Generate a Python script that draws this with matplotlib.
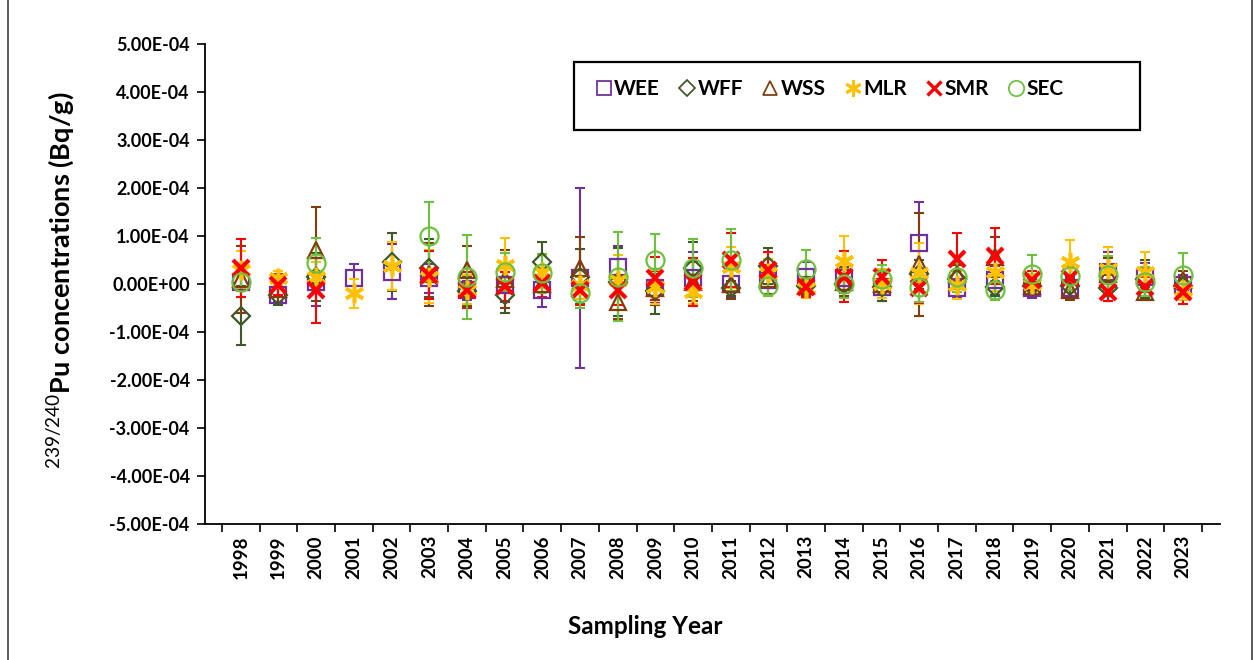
import numpy as np
import matplotlib
matplotlib.use('Agg')
import matplotlib.pyplot as plt
from matplotlib.ticker import FuncFormatter, FixedLocator
from matplotlib.patches import Rectangle
from matplotlib.lines import Line2D

plt.rcParams['font.family'] = ['Lato', 'DejaVu Sans']
plt.rcParams['mathtext.fontset'] = 'custom'
plt.rcParams['mathtext.rm'] = 'Lato'
plt.rcParams['mathtext.bf'] = 'Lato:bold'

years = ['1998', '1999', '2000', '2001', '2002', '2003', '2004', '2005', '2006',
         '2007', '2008', '2009', '2010', '2011', '2012', '2013', '2014', '2015',
         '2016', '2017', '2018', '2019', '2020', '2021', '2022', '2023']
nan = np.nan
# values in units of 1e-4 Bq/g
wee = [0.05, -0.22, 0.05, 0.12, 0.26, 0.12, -0.13, -0.02, -0.13, 0.13, 0.36, -0.09, 0.12,
       0.01, 0.08, 0.15, 0.12, -0.06, 0.86, -0.09, 0.08, -0.09, -0.09, 0.24, 0.14, -0.02]
wee_err = [0.2, 0.15, 0.5, 0.29, 0.58, 0.3, 0.2, 0.35, 0.34, 1.88, 0.43, 0.3, 0.55,
           0.3, 0.3, 0.3, 0.3, 0.3, 0.85, 0.2, 0.3, 0.2, 0.2, 0.42, 0.3, 0.2]
wff = [-0.66, -0.23, 0.15, nan, 0.46, 0.33, -0.15, -0.23, 0.46, 0.15, 0.04, -0.15, 0.33,
       -0.09, 0.37, -0.05, 0.01, -0.06, 0.2, 0.1, -0.06, -0.05, -0.05, -0.09, 0.1, -0.05]
wff_err = [0.61, 0.2, 0.5, nan, 0.6, 0.6, 0.3, 0.38, 0.41, 0.57, 0.7, 0.47, 0.55,
           0.15, 0.37, 0.2, 0.3, 0.3, 0.3, 0.2, 0.2, 0.2, 0.2, 0.27, 0.4, 0.2]
wss = [0.1, -0.1, 0.71, nan, nan, 0.2, 0.29, 0.1, 0.01, 0.33, -0.37, -0.08, 0.05,
       0.01, 0.1, -0.05, 0.05, 0.0, 0.41, 0.2, 0.57, -0.05, -0.13, 0.2, -0.16, 0.08]
wss_err = [0.7, 0.3, 0.9, nan, nan, 0.65, 0.5, 0.6, 0.3, 0.64, 0.35, 0.35, 0.4,
           0.32, 0.3, 0.2, 0.3, 0.3, 1.07, 0.2, 0.4, 0.2, 0.2, 0.35, 0.1, 0.2]
mlr = [0.29, 0.12, 0.15, -0.19, 0.37, 0.15, -0.12, 0.4, 0.26, -0.02, 0.08, -0.06, -0.16,
       0.35, 0.22, -0.09, 0.48, 0.01, 0.22, -0.02, 0.26, 0.01, 0.46, 0.31, 0.26, -0.13]
mlr_err = [0.4, 0.15, 0.3, 0.3, 0.5, 0.55, 0.3, 0.55, 0.35, 0.3, 0.52, 0.35, 0.25,
           0.43, 0.3, 0.2, 0.53, 0.3, 0.64, 0.3, 0.4, 0.2, 0.46, 0.47, 0.41, 0.2]
smr = [0.33, -0.02, -0.13, nan, nan, 0.19, -0.13, -0.05, 0.02, -0.13, -0.13, 0.12, 0.05,
       0.5, 0.29, -0.07, 0.15, 0.15, -0.09, 0.52, 0.58, 0.08, 0.12, -0.16, -0.06, -0.16]
smr_err = [0.6, 0.2, 0.68, nan, nan, 0.5, 0.38, 0.3, 0.3, 0.3, 0.3, 0.45, 0.5,
           0.57, 0.38, 0.2, 0.53, 0.35, 0.3, 0.55, 0.58, 0.2, 0.25, 0.2, 0.2, 0.26]
sec = [0.05, nan, 0.43, nan, nan, 0.99, 0.15, 0.24, 0.22, -0.18, 0.15, 0.49, 0.33,
       0.5, -0.04, 0.31, 0.01, 0.1, -0.07, 0.14, -0.13, 0.2, 0.17, 0.19, 0.05, 0.19]
sec_err = [0.2, nan, 0.53, nan, nan, 0.72, 0.88, 0.4, 0.4, 0.33, 0.93, 0.55, 0.6,
           0.64, 0.2, 0.4, 0.3, 0.3, 0.3, 0.3, 0.2, 0.4, 0.3, 0.4, 0.3, 0.46]

SCALE = 1e-4
series = [
    ('WEE', wee, wee_err, '#7030A0', 's', 12, 1.6, 'none'),
    ('WFF', wff, wff_err, '#3E5A28', 'D', 9, 1.6, 'none'),
    ('WSS', wss, wss_err, '#843C0C', '^', 12, 1.6, 'none'),
    ('MLR', mlr, mlr_err, '#FFC000', (6, 2, 0), 14, 2.6, 'none'),
    ('SMR', smr, smr_err, '#FF0000', 'x', 12, 3.0, 'none'),
    ('SEC', sec, sec_err, '#70C040', 'o', 13, 1.6, 'none'),
]

W, H = 1257, 660
fig = plt.figure(figsize=(W / 100, H / 100), dpi=100)
ax = fig.add_axes([205 / W, 1 - 524 / H, (1220 - 205) / W, (524 - 44) / H])

x = np.arange(len(years))
handles = []
for name, vals, errs, col, mk, ms, mew, fc in series:
    v = np.array(vals, dtype=float) * SCALE
    e = np.array(errs, dtype=float) * SCALE
    ax.errorbar(x, v, yerr=e, fmt='none', ecolor=col, elinewidth=1.5,
                capsize=3.5, capthick=1.5, zorder=2)
    ax.plot(x, v, linestyle='none', marker=mk, markersize=ms, markeredgewidth=mew,
            markerfacecolor=fc, markeredgecolor=col, zorder=3)
    handles.append(Line2D([], [], linestyle='none', marker=mk, markersize=ms * 0.85,
                          markeredgewidth=mew * 0.8, markerfacecolor=fc,
                          markeredgecolor=col, label=name))

ax.set_xlim(-0.95, len(years) - 1 + 0.98)
ax.set_ylim(-5e-4, 5e-4)
ax.yaxis.set_major_locator(FixedLocator(np.arange(-5, 6) * 1e-4))
ax.yaxis.set_major_formatter(FuncFormatter(lambda v, p: f"{v:.2E}"))
ax.set_xticks(x)
ax.set_xticklabels(years, rotation=90, fontsize=13.5, fontweight='bold')
for lbl in ax.get_yticklabels():
    lbl.set_fontweight('bold')
    lbl.set_fontsize(13)
ax.tick_params(axis='y', direction='out', length=6, width=1.2, pad=5)
ax.tick_params(axis='x', direction='out', length=0, pad=8)
ax.set_xticks(np.arange(len(years) + 1) - 0.5, minor=True)
ax.tick_params(axis='x', which='minor', direction='out', length=6, width=1.2)

for s in ['top', 'right']:
    ax.spines[s].set_visible(False)
for s in ['left', 'bottom']:
    ax.spines[s].set_linewidth(1.3)

fig.text(645 / W, 1 - 626 / H, 'Sampling Year', ha='center', va='center',
         fontsize=17.5, fontweight='bold')
fig.text(60 / W, 1 - 280 / H, r'$^{\mathrm{239/240}}$Pu concentrations (Bq/g)',
         ha='center', va='center', rotation=90, fontsize=19.5, fontweight='bold')

# legend frame
fig.patches.append(Rectangle((574 / W, 1 - 130 / H), (1140 - 574) / W, 68 / H,
                             transform=fig.transFigure, fill=False,
                             edgecolor='black', linewidth=1.6))
leg = fig.legend(handles=handles, loc='center left',
                 bbox_to_anchor=(584 / W, 1 - 89 / H), ncol=6, frameon=False,
                 prop={'weight': 'bold', 'size': 15}, handlelength=0.9,
                 handletextpad=0.05, columnspacing=0.85, borderpad=0)

# outer border
fig.patches.append(Rectangle((8 / W, -0.05), (1252 - 8) / W, 1.2,
                             transform=fig.transFigure, fill=False,
                             edgecolor='#404040', linewidth=1.2))

fig.savefig('out.png', dpi=100)
